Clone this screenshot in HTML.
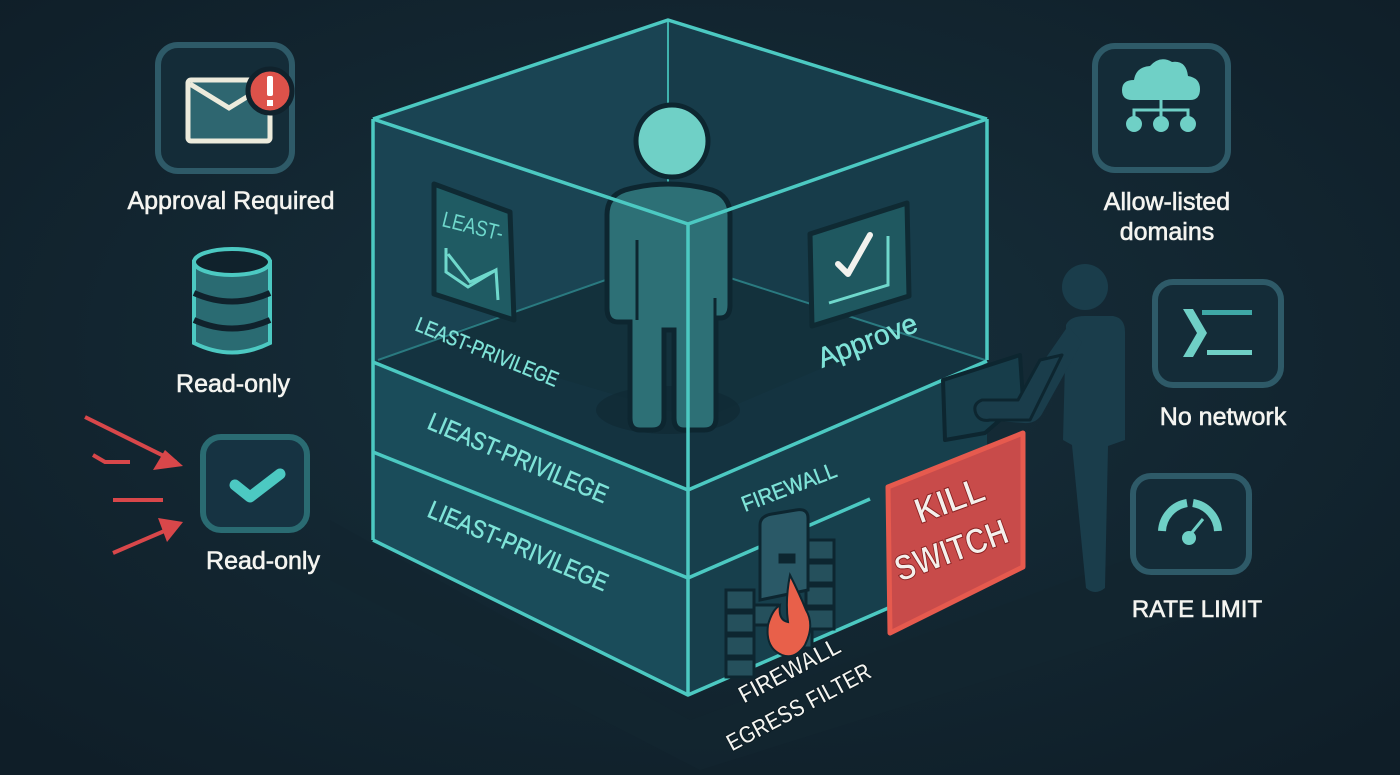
<!DOCTYPE html>
<html><head><meta charset="utf-8"><style>
html,body{margin:0;padding:0;background:#11212c;}
svg{display:block;}
text{font-family:"Liberation Sans",sans-serif;}
</style></head><body>
<svg width="1400" height="775" viewBox="0 0 1400 775" xmlns="http://www.w3.org/2000/svg">
<defs>
<radialGradient id="bg" cx="0.5" cy="0.45" r="0.7">
<stop offset="0" stop-color="#17303c"/><stop offset="1" stop-color="#0f1e28"/>
</radialGradient>
</defs>
<rect width="1400" height="775" fill="url(#bg)"/>
<polygon points="330,520 690,720 1180,540 1180,620 700,770 330,580" fill="#13262f" opacity="0.8"/>

<polygon points="373,119 668,20 668,258 373,362" fill="#1a4453"/>
<polygon points="668,20 987,119 987,361 668,258" fill="#173c4a"/>
<polygon points="373,362 668,258 987,361 688,490" fill="#143340"/>
<polygon points="430,340 668,258 900,335 700,420" fill="#12303b" opacity="0.7"/>
<polygon points="373,362 688,490 688,695 373,540" fill="#1a4c5a"/>
<polygon points="688,490 987,361 987,566 688,695" fill="#173f4c"/>

<line x1="668" y1="20" x2="668" y2="258" stroke="#3fb3ae" stroke-width="2"/>
<line x1="378" y1="360" x2="668" y2="258" stroke="#2a7a80" stroke-width="2"/>
<line x1="668" y1="258" x2="985" y2="360" stroke="#2a7a80" stroke-width="2"/>

<polygon points="434,184 510,212 514,320 434,294" fill="#1f5b63" stroke="#0f2a33" stroke-width="5" stroke-linejoin="round"/>
<text transform="translate(441,226) rotate(14)" font-size="22" fill="#6fd8cc" textLength="62" lengthAdjust="spacingAndGlyphs">LEAST-</text>
<polyline points="446,248 446,272 468,287 496,270 498,300" fill="none" stroke="#6fd8cc" stroke-width="3"/>
<polyline points="448,254 470,282 496,270" fill="none" stroke="#6fd8cc" stroke-width="3"/>
<text transform="translate(414,330) rotate(22)" font-size="21" fill="#7fe3d8" stroke="#7fe3d8" stroke-width="0.4" textLength="152" lengthAdjust="spacingAndGlyphs">LEAST-PRIVILEGE</text>

<polygon points="810,234 907,203 909,296 812,326" fill="#1f5860" stroke="#0f2a33" stroke-width="5" stroke-linejoin="round"/>
<polyline points="838,264 848,274 870,235" fill="none" stroke="#f2f2ee" stroke-width="6" stroke-linecap="round" stroke-linejoin="round"/>
<polyline points="888,236 888,285 829,303" fill="none" stroke="#6fd8cc" stroke-width="3"/>
<text transform="translate(822,368) rotate(-21)" font-size="28" fill="#7fe3d8" stroke="#7fe3d8" stroke-width="0.5">Approve</text>

<ellipse cx="668" cy="410" rx="72" ry="24" fill="#0f2a33" opacity="0.7"/>
<path d="M625,190 Q668,178 712,190 Q730,196 730,215 L730,305 Q730,318 720,318 L716,318 L716,418 Q716,430 704,430 L684,430 Q674,430 674,418 L674,330 L664,330 L664,418 Q664,430 652,430 L640,430 Q630,430 630,418 L630,322 L618,322 Q607,322 607,308 L607,215 Q607,196 625,190 Z" fill="#2d7076" stroke="#0d2630" stroke-width="5"/>
<line x1="637" y1="240" x2="637" y2="320" stroke="#0d2630" stroke-width="3"/>
<line x1="715" y1="298" x2="715" y2="320" stroke="#0d2630" stroke-width="3"/>
<circle cx="672" cy="141" r="36" fill="#6fd0c6" stroke="#0d2630" stroke-width="5"/>

<text transform="translate(426,428) rotate(23)" font-size="25" fill="#7fe3d8" stroke="#7fe3d8" stroke-width="0.5" textLength="193" lengthAdjust="spacingAndGlyphs">LIEAST-PRIVILEGE</text>
<text transform="translate(426,516) rotate(23)" font-size="25" fill="#7fe3d8" stroke="#7fe3d8" stroke-width="0.5" textLength="193" lengthAdjust="spacingAndGlyphs">LIEAST-PRIVILEGE</text>

<g stroke="#4cc9c2" stroke-width="3.5" fill="none" stroke-linejoin="round">
<polyline points="373,119 668,20 987,119"/>
<polyline points="373,119 688,224 987,119"/>
<line x1="688" y1="224" x2="688" y2="695"/>
<line x1="373" y1="119" x2="373" y2="540"/>
<line x1="987" y1="119" x2="987" y2="360"/>
<line x1="373" y1="362" x2="688" y2="490"/>
<line x1="373" y1="452" x2="688" y2="578"/>
<polyline points="373,540 688,695 900,603"/>
<line x1="688" y1="490" x2="987" y2="361"/>
<line x1="688" y1="578" x2="870" y2="499"/>
</g>

<text transform="translate(745,512) rotate(-21)" font-size="22" fill="#7fe3d8" stroke="#7fe3d8" stroke-width="0.4" textLength="100" lengthAdjust="spacingAndGlyphs">FIREWALL</text>

<g stroke="#0d2630" stroke-width="3" fill="#25505c">
<rect x="726" y="590" width="28" height="20"/><rect x="726" y="613" width="28" height="20"/><rect x="726" y="636" width="28" height="20"/><rect x="726" y="659" width="28" height="18"/>
<rect x="754" y="605" width="24" height="20"/>
<rect x="806" y="540" width="28" height="20"/><rect x="806" y="563" width="28" height="20"/><rect x="806" y="586" width="28" height="20"/><rect x="806" y="609" width="28" height="20"/>
<rect x="790" y="630" width="22" height="18"/>
<path d="M760,525 L760,600 L808,590 L808,518 Q808,508 796,510 L772,514 Q760,516 760,525 Z" fill="#2a5967"/>
<rect x="780" y="555" width="14" height="7" fill="#0d2630"/>
</g>
<path d="M790,575 Q800,595 806,610 Q815,625 805,645 Q795,660 782,655 Q765,648 768,625 Q772,610 780,605 Q778,620 788,622 Q785,600 790,575 Z" fill="#e8604a" stroke="#0d2630" stroke-width="2"/>

<text transform="translate(744,704) rotate(-28)" font-size="25" font-weight="bold" fill="#f4f4f0" stroke="#0c1c24" stroke-width="1" textLength="112" lengthAdjust="spacingAndGlyphs">FIREWALL</text>
<text transform="translate(732,752) rotate(-28)" font-size="25" font-weight="bold" fill="#f4f4f0" stroke="#0c1c24" stroke-width="1" textLength="160" lengthAdjust="spacingAndGlyphs">EGRESS FILTER</text>

<!-- right person -->
<g fill="#1a3d4b">
<circle cx="1085" cy="287" r="23"/>
<path d="M1066,325 Q1070,316 1085,316 L1113,316 Q1125,318 1125,332 L1125,440 L1108,446 L1105,588 Q1095,596 1086,588 L1072,445 L1063,440 Z"/>
<path d="M1068,326 L1082,342 L1042,414 Q1036,424 1024,423 L985,420 Q972,416 975,404 Q978,395 990,396 L1018,398 Z"/>
</g>
<polygon points="943,380 1020,355 1023,400 985,433 945,440" fill="#173d4a" stroke="#0d2630" stroke-width="4" stroke-linejoin="round"/>
<path d="M1040,360 L1018,400 L982,400 Q972,404 976,414 Q980,422 990,420 L1030,420 L1062,355 Z" fill="#1a3d4b" stroke="#0d2630" stroke-width="3" stroke-linejoin="round"/>

<polygon points="888,487 1023,433 1023,567 890,633" fill="#c84b4a" stroke="#e65a4e" stroke-width="5" stroke-linejoin="round"/>
<text transform="translate(920,524) rotate(-20)" font-size="36" font-weight="bold" fill="#f4f0ec" stroke="#8a2222" stroke-width="1" textLength="72" lengthAdjust="spacingAndGlyphs">KILL</text>
<text transform="translate(900,582) rotate(-20)" font-size="36" font-weight="bold" fill="#f4f0ec" stroke="#8a2222" stroke-width="1" textLength="118" lengthAdjust="spacingAndGlyphs">SWITCH</text>

<rect x="158" y="45" width="134" height="126" rx="20" fill="#142c38" stroke="#2e5a68" stroke-width="6"/>
<rect x="188" y="80" width="82" height="61" rx="3" fill="#2e6670" stroke="#ecebdc" stroke-width="5"/>
<polyline points="190,84 229,108 268,84" fill="none" stroke="#ecebdc" stroke-width="5"/>
<circle cx="270" cy="91" r="22" fill="#dd524a" stroke="#10222c" stroke-width="5"/>
<rect x="267" y="76" width="6" height="20" rx="2" fill="#fff"/><rect x="267" y="100" width="6" height="6" fill="#fff"/>
<g font-size="25" fill="#f4f4f0" stroke="#f4f4f0" stroke-width="0.6" text-anchor="middle">
<text x="231" y="209">Approval Required</text>
<text x="233" y="392">Read-only</text>
<text x="263" y="569">Read-only</text>
<text x="1167" y="210">Allow-listed</text>
<text x="1167" y="240">domains</text>
<text x="1223" y="425">No network</text>
<text x="1197" y="617" font-size="24">RATE LIMIT</text>
</g>

<g stroke="#4cc9c2" stroke-width="4" fill="#2a6b72">
<path d="M194,262 L194,343 Q232,362 270,343 L270,262 Z"/>
<ellipse cx="232" cy="262" rx="38" ry="13" fill="#10222c"/>
</g>
<path d="M194,293 Q232,310 270,293" fill="none" stroke="#10222c" stroke-width="6"/>
<path d="M194,320 Q232,337 270,320" fill="none" stroke="#10222c" stroke-width="6"/>

<rect x="203" y="437" width="104" height="93" rx="18" fill="#163342" stroke="#2a6b72" stroke-width="6"/>
<polyline points="235,485 250,497 280,474" fill="none" stroke="#4cc9c2" stroke-width="11" stroke-linecap="round" stroke-linejoin="round"/>

<g stroke="#d8474a" stroke-width="4" fill="none">
<line x1="85" y1="417" x2="176" y2="462"/>
<polyline points="93,455 105,462 130,462"/>
<line x1="113" y1="500" x2="163" y2="500"/>
<line x1="113" y1="553" x2="176" y2="526"/>
</g>
<polygon points="183,466 153,470 165,450" fill="#d8474a"/>
<polygon points="183,522 158,518 167,542" fill="#d8474a"/>

<rect x="1095" y="46" width="133" height="124" rx="20" fill="#142c38" stroke="#2e5a68" stroke-width="6"/>
<path d="M1132,100 Q1122,100 1122,90 Q1122,80 1134,80 Q1136,67 1150,66 Q1160,55 1172,62 Q1186,60 1188,76 Q1200,78 1200,89 Q1200,100 1190,100 Z" fill="#6fd0c6"/>
<g stroke="#6fd0c6" stroke-width="3" fill="none"><line x1="1161" y1="100" x2="1161" y2="116"/><polyline points="1134,124 1134,110 1188,110 1188,124"/></g>
<circle cx="1134" cy="124" r="8" fill="#6fd0c6"/><circle cx="1161" cy="124" r="8" fill="#6fd0c6"/><circle cx="1188" cy="124" r="8" fill="#6fd0c6"/>

<rect x="1155" y="282" width="126" height="103" rx="18" fill="#142c38" stroke="#2e5a68" stroke-width="6"/>
<polygon points="1183,309 1193,309 1207,333 1193,357 1183,357 1197,333" fill="#6fd0c6"/>
<rect x="1202" y="310" width="50" height="5" fill="#3fa8a6"/>
<rect x="1207" y="350" width="45" height="5" fill="#6fd0c6"/>

<rect x="1133" y="476" width="116" height="96" rx="18" fill="#142c38" stroke="#2e5a68" stroke-width="6"/>
<path d="M1162,531 A30,30 0 0 1 1187,503" fill="none" stroke="#6fd0c6" stroke-width="8"/>
<path d="M1193,503 A30,30 0 0 1 1218,531" fill="none" stroke="#6fd0c6" stroke-width="8"/>
<line x1="1189" y1="536" x2="1203" y2="519" stroke="#6fd0c6" stroke-width="3"/>
<circle cx="1189" cy="538" r="7" fill="#6fd0c6"/>
</svg>
</body></html>
